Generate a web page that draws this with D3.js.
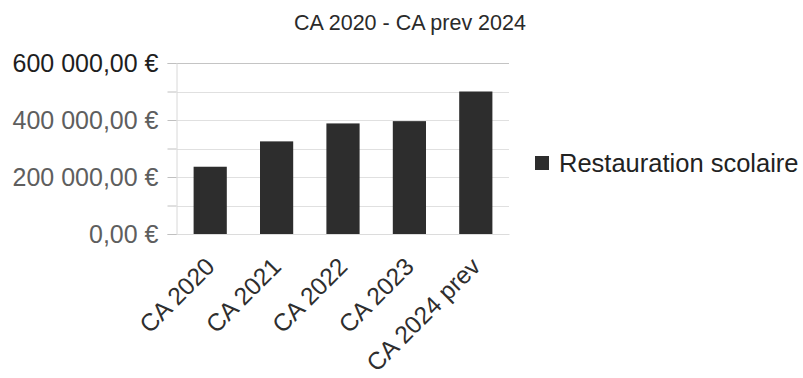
<!DOCTYPE html>
<html>
<head>
<meta charset="utf-8">
<script src="https://cdn.jsdelivr.net/npm/d3@7/dist/d3.min.js"></script>
<style>
  html, body { margin: 0; padding: 0; background: #fff; }
  svg { display: block; font-family: "Liberation Sans", Arial, sans-serif; }
</style>
</head>
<body>
<svg id="chart" width="803" height="378"></svg>
<script>
// Chiffre d'affaires annuel, restauration scolaire
const categories = ["CA 2020", "CA 2021", "CA 2022", "CA 2023", "CA 2024 prev"];
const seriesName = "Restauration scolaire";
const values = [236000, 325000, 388000, 396000, 500000];
const yTicks = [0, 200000, 400000, 600000];
const yTickLabels = ["0,00 €", "200 000,00 €", "400 000,00 €", "600 000,00 €"];
const gridValues = [0, 100000, 200000, 300000, 400000, 500000, 600000];
const title = "CA 2020 - CA prev 2024";

const svg = d3.select("#chart");
const plot = { left: 177, right: 509, top: 63, bottom: 234 };

const x = d3.scaleBand()
  .domain(categories)
  .range([plot.left, plot.right])
  .paddingInner(0.5)
  .paddingOuter(0.25);

const y = d3.scaleLinear()
  .domain([0, 600000])
  .range([plot.bottom, plot.top]);

// Title
svg.append("text")
  .attr("x", 410)
  .attr("y", 30)
  .attr("text-anchor", "middle")
  .attr("font-size", 21.5)
  .attr("fill", "#2a2a2a")
  .text(title);

// Horizontal grid
svg.append("g")
  .selectAll("line")
  .data(gridValues)
  .join("line")
  .attr("x1", plot.left)
  .attr("x2", plot.right)
  .attr("y1", d => Math.round(y(d)) + 0.5)
  .attr("y2", d => Math.round(y(d)) + 0.5)
  .attr("stroke", d => d === 600000 ? "#c4c4c4" : "#e0e0e0")
  .attr("stroke-width", 1);

// Y axis
const tickLabel = new Map(yTicks.map((t, i) => [t, yTickLabels[i]]));
const yAxis = d3.axisLeft(y)
  .tickValues(gridValues)
  .tickSize(9)
  .tickPadding(9)
  .tickFormat(d => tickLabel.get(d) || "");

const gy = svg.append("g")
  .attr("transform", `translate(${plot.left - 0.5},0)`)
  .call(yAxis);
gy.select(".domain").attr("stroke", "#d8d8d8");
gy.selectAll(".tick line").attr("stroke", "#c0c0c0");
gy.selectAll(".tick text")
  .attr("font-size", 25)
  .attr("font-family", "Liberation Sans, Arial, sans-serif")
  .attr("fill", d => d === 600000 ? "#1e1e1e" : "#5e5e5e");

// Bars
svg.append("g")
  .selectAll("rect")
  .data(values)
  .join("rect")
  .attr("x", (d, i) => x(categories[i]))
  .attr("y", d => y(d))
  .attr("width", x.bandwidth())
  .attr("height", d => y(0) - y(d))
  .attr("fill", "#2d2d2d");

// X axis
const xAxis = d3.axisBottom(x).tickSize(0).tickPadding(0);
const gx = svg.append("g")
  .attr("transform", `translate(0,${plot.bottom})`)
  .call(xAxis);
gx.select(".domain").attr("stroke", "#dcdcdc");
gx.selectAll(".tick text")
  .attr("font-size", 24.5)
  .attr("font-family", "Liberation Sans, Arial, sans-serif")
  .attr("fill", "#2e2e2e")
  .attr("text-anchor", "end")
  .attr("dy", 0)
  .attr("transform", "translate(6,34) rotate(-45)");

// Legend
const legend = svg.append("g").attr("transform", "translate(535,156)");
legend.append("rect")
  .attr("width", 14)
  .attr("height", 14)
  .attr("fill", "#2d2d2d");
legend.append("text")
  .attr("x", 24)
  .attr("y", 16)
  .attr("font-size", 25.5)
  .attr("fill", "#222")
  .text(seriesName);
</script>
</body>
</html>
